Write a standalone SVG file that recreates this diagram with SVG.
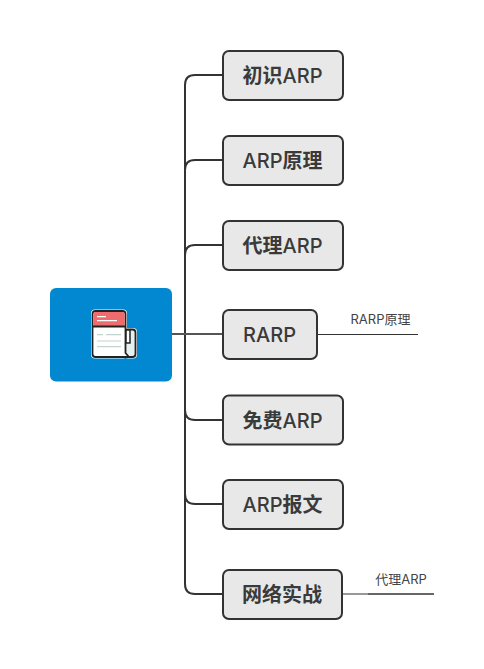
<svg xmlns="http://www.w3.org/2000/svg" width="484" height="669" viewBox="0 0 484 669">
<style>
.box{fill:#e8e8e8;stroke:#333;stroke-width:2}
.t{font-family:"Inter","Noto Sans CJK SC",sans-serif;font-size:20px;font-weight:500;fill:#3a3a3a;text-anchor:middle}
.b{font-weight:700}
.s{font-family:"Inter","Noto Sans CJK SC",sans-serif;font-size:13px;fill:#444;text-anchor:middle}
.c{fill:none;stroke:#333;stroke-width:2}
</style>
<rect width="484" height="669" fill="#fff"/>
<g id="connectors">
<path class="c" d="M223 75H195Q185 75 185 85V584Q185 594 195 594H223"/>
<path class="c" d="M223 160H195Q185 160 185 170"/>
<path class="c" d="M223 245H195Q185 245 185 255"/>
<path class="c" d="M223 420H195Q185 420 185 410"/>
<path class="c" d="M223 504H195Q185 504 185 494"/>
<path d="M172 334H223" fill="none" stroke="#555" stroke-width="2"/>
<path d="M317 334.500H418" fill="none" stroke="#333" stroke-width="1"/>
<path d="M343 594H368" fill="none" stroke="#999" stroke-width="2"/>
<path d="M368 594H434" fill="none" stroke="#666" stroke-width="2"/>
</g>
<g id="root">
<rect x="50" y="288" width="122" height="93.500" rx="6" fill="#0288d1"/>
<rect x="91" y="309.500" width="36" height="49" rx="4" fill="#fff"/>
<rect x="124" y="328" width="13" height="30.500" rx="4" fill="#fff"/>
<rect x="125" y="329.500" width="10.500" height="27.500" rx="3" fill="#e4f1f0" stroke="#222" stroke-width="1.800"/>
<path d="M92.500 314Q92.500 311 95.500 311H122.500Q125.500 311 125.500 314V353L129 357H95.500Q92.500 357 92.500 354Z" fill="#fff" stroke="#222" stroke-width="1.800"/>
<path d="M93.400 326V314Q93.400 311.900 95.500 311.900H122.500Q124.600 311.900 124.600 314V326Z" fill="#ee6b6e"/>
<path d="M92.500 326.500H125.500" stroke="#222" stroke-width="1.800"/>
<path d="M126 330H130V343H126Z" fill="#fff" stroke="#222" stroke-width="1.500"/>
<path d="M97 316.700H106M97 320.700H117" stroke="#fff" stroke-width="1.200"/>
<path d="M97 334.700H103M106 334.700H121M97 341H121M97 346.700H121" stroke="#c3d3d0" stroke-width="1.200"/>
</g>
<g id="n1"><rect class="box" x="223" y="51" width="120" height="49" rx="6"/><text class="t" x="282.500" y="82.500"><tspan class="b">初识</tspan>ARP</text></g>
<g id="n2"><rect class="box" x="223" y="136" width="120" height="49" rx="6"/><text class="t" x="282.500" y="167.500">ARP<tspan class="b">原理</tspan></text></g>
<g id="n3"><rect class="box" x="223" y="221" width="120" height="49" rx="6"/><text class="t" x="282.500" y="252.500"><tspan class="b">代理</tspan>ARP</text></g>
<g id="n4"><rect class="box" x="223" y="310" width="94" height="49" rx="6"/><text class="t" x="269.500" y="341.500">RARP</text></g>
<g id="n5"><rect class="box" x="223" y="395.500" width="120" height="49" rx="6"/><text class="t" x="282.500" y="427.500"><tspan class="b">免费</tspan>ARP</text></g>
<g id="n6"><rect class="box" x="223" y="480" width="120" height="49" rx="6"/><text class="t" x="282.500" y="511.500">ARP<tspan class="b">报文</tspan></text></g>
<g id="n7"><rect class="box" x="223" y="570" width="119" height="49" rx="6"/><text class="t b" x="282" y="601.500">网络实战</text></g>
<g id="l1"><text class="s" x="380.500" y="324">RARP原理</text></g>
<g id="l2"><text class="s" x="401" y="584">代理ARP</text></g>
</svg>
